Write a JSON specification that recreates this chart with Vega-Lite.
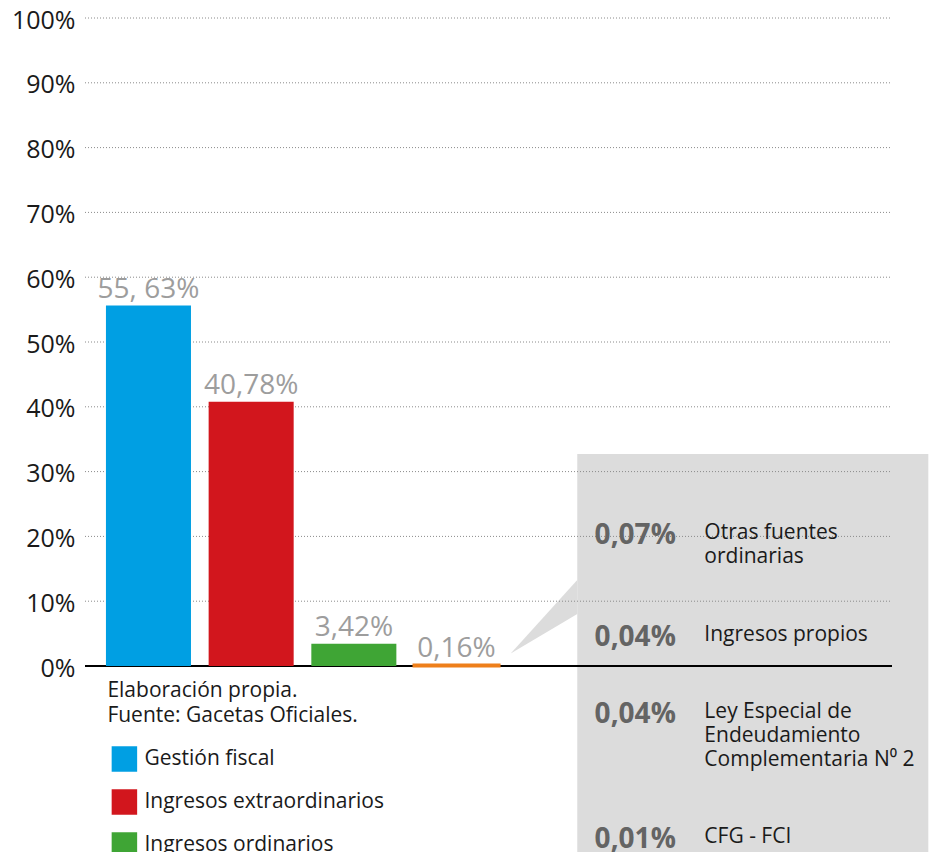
{
  "$schema": "https://vega.github.io/schema/vega-lite/v6.json",
  "width": 807,
  "height": 648,
  "autosize": {"type": "none"},
  "padding": {"left": 85, "top": 18, "right": 45, "bottom": 186},
  "background": "white",
  "config": {"view": {"stroke": null}, "font": "Open Sans"},
  "datasets": {
    "barras": [
      {"categoria": "Gestión fiscal", "porcentaje": 55.63, "etiqueta": "55, 63%"},
      {"categoria": "Ingresos extraordinarios", "porcentaje": 40.78, "etiqueta": "40,78%"},
      {"categoria": "Ingresos ordinarios", "porcentaje": 3.42, "etiqueta": "3,42%"},
      {"categoria": "Otros ingresos", "porcentaje": 0.16, "etiqueta": "0,16%"}
    ],
    "desglose": [
      {"valor": "0,07%", "concepto": "Otras fuentes\nordinarias", "pos": 22.21},
      {"valor": "0,04%", "concepto": "Ingresos propios", "pos": 6.54},
      {"valor": "0,04%", "concepto": "Ley Especial de\nEndeudamiento\nComplementaria N⁰ 2", "pos": -5.34},
      {"valor": "0,01%", "concepto": "CFG - FCI", "pos": -24.71}
    ],
    "lineas": [
      {"t": 10}, {"t": 20}, {"t": 30}, {"t": 40}, {"t": 50},
      {"t": 60}, {"t": 70}, {"t": 80}, {"t": 90}, {"t": 100}
    ],
    "flecha": [
      {"fx": 52.75, "fy": 1.94, "fy2": 1.94},
      {"fx": 61.0, "fy": 13.26, "fy2": 8.01}
    ]
  },
  "layer": [
    {
      "data": {"values": [{}]},
      "mark": {"type": "rect", "color": "#dcdcdc"},
      "encoding": {
        "x": {"datum": 61.0, "type": "quantitative", "scale": {"domain": [0, 100], "nice": false, "zero": false}, "axis": null},
        "x2": {"datum": 104.5},
        "y": {
          "datum": 32.7,
          "type": "quantitative",
          "scale": {"domain": [0, 100], "nice": false},
          "axis": {
            "values": [0, 10, 20, 30, 40, 50, 60, 70, 80, 90, 100],
            "labelExpr": "datum.value + '%'",
            "title": null,
            "domain": false,
            "ticks": false,
            "grid": false,
            "labelFont": "Open Sans",
            "labelFontSize": 25,
            "labelColor": "#1a1a1a",
            "labelPadding": 10,
            "labelOffset": 2
          }
        },
        "y2": {"datum": -45}
      }
    },
    {
      "data": {"name": "flecha"},
      "mark": {"type": "area", "color": "#dcdcdc", "orient": "vertical", "opacity": 1},
      "encoding": {
        "x": {"field": "fx", "type": "quantitative", "scale": {"domain": [0, 100], "nice": false, "zero": false}, "axis": null},
        "y": {"field": "fy", "type": "quantitative"},
        "y2": {"field": "fy2"}
      }
    },
    {
      "data": {"name": "lineas"},
      "mark": {"type": "rule", "color": "#8a8a8a", "strokeWidth": 1, "strokeDash": [1, 2]},
      "encoding": {
        "x": {"datum": 0, "type": "quantitative", "scale": {"domain": [0, 100], "nice": false, "zero": false}, "axis": null},
        "x2": {"datum": 100},
        "y": {"field": "t", "type": "quantitative"}
      }
    },
    {
      "data": {"values": [{}]},
      "mark": {"type": "rule", "color": "#000000", "strokeWidth": 2},
      "encoding": {
        "x": {"datum": 0, "type": "quantitative", "scale": {"domain": [0, 100], "nice": false, "zero": false}, "axis": null},
        "x2": {"datum": 100},
        "y": {"datum": 0, "type": "quantitative"}
      }
    },
    {
      "data": {"name": "barras"},
      "encoding": {
        "x": {
          "field": "categoria",
          "type": "nominal",
          "sort": null,
          "axis": null,
          "scale": {
            "type": "band",
            "domain": ["Gestión fiscal", "Ingresos extraordinarios", "Ingresos ordinarios", "Otros ingresos"],
            "range": [0, 435],
            "paddingInner": 0.172,
            "paddingOuter": 0.204
          }
        }
      },
      "layer": [
        {
          "mark": {"type": "bar", "y2Offset": -1},
          "encoding": {
            "y": {"field": "porcentaje", "type": "quantitative"},
            "color": {
              "field": "categoria",
              "type": "nominal",
              "scale": {
                "domain": ["Gestión fiscal", "Ingresos extraordinarios", "Ingresos ordinarios", "Otros ingresos"],
                "range": ["#009FE3", "#D2161D", "#3FA535", "#EE7F1A"]
              },
              "legend": {
                "orient": "none",
                "legendX": 22.4,
                "legendY": 662,
                "padding": 0,
                "title": ["Elaboración propia.", "Fuente: Gacetas Oficiales."],
                "titleFont": "Open Sans",
                "titleFontSize": 21,
                "titleFontWeight": "normal",
                "titleColor": "#1a1a1a",
                "titleLineHeight": 25,
                "titlePadding": 20,
                "titleLimit": 500,
                "labelFont": "Open Sans",
                "labelFontSize": 21,
                "labelColor": "#1a1a1a",
                "labelOffset": 7,
                "labelLimit": 500,
                "symbolType": "square",
                "symbolSize": 650,
                "symbolStrokeWidth": 0,
                "symbolOpacity": 1,
                "symbolOffset": 4,
                "rowPadding": 17
              }
            },
            "stroke": {
              "field": "categoria",
              "type": "nominal",
              "scale": {
                "domain": ["Gestión fiscal", "Ingresos extraordinarios", "Ingresos ordinarios", "Otros ingresos"],
                "range": ["#009FE3", "#D2161D", "#3FA535", "#EE7F1A"]
              },
              "legend": null
            },
            "strokeWidth": {
              "condition": {"test": "datum.porcentaje < 1", "value": 3},
              "value": 0
            }
          }
        },
        {
          "mark": {"type": "text", "font": "Open Sans", "fontSize": 28, "color": "#9d9d9d", "baseline": "alphabetic", "align": "center", "dy": -8},
          "encoding": {
            "y": {"field": "porcentaje", "type": "quantitative"},
            "text": {"field": "etiqueta", "type": "nominal"}
          }
        }
      ]
    },
    {
      "data": {"name": "desglose"},
      "mark": {"type": "text", "font": "Open Sans", "fontSize": 28, "fontWeight": "bold", "color": "#646464", "align": "left", "baseline": "top"},
      "encoding": {
        "x": {"datum": 63.15, "type": "quantitative", "scale": {"domain": [0, 100], "nice": false, "zero": false}, "axis": null},
        "y": {"field": "pos", "type": "quantitative"},
        "text": {"field": "valor", "type": "nominal"}
      }
    },
    {
      "data": {"name": "desglose"},
      "mark": {"type": "text", "font": "Open Sans", "fontSize": 21, "color": "#1a1a1a", "align": "left", "baseline": "top", "lineBreak": "\n", "lineHeight": 24},
      "encoding": {
        "x": {"datum": 76.75, "type": "quantitative", "scale": {"domain": [0, 100], "nice": false, "zero": false}, "axis": null},
        "y": {"field": "pos", "type": "quantitative"},
        "text": {"field": "concepto", "type": "nominal"}
      }
    }
  ],
  "resolve": {"scale": {"x": "independent"}}
}
